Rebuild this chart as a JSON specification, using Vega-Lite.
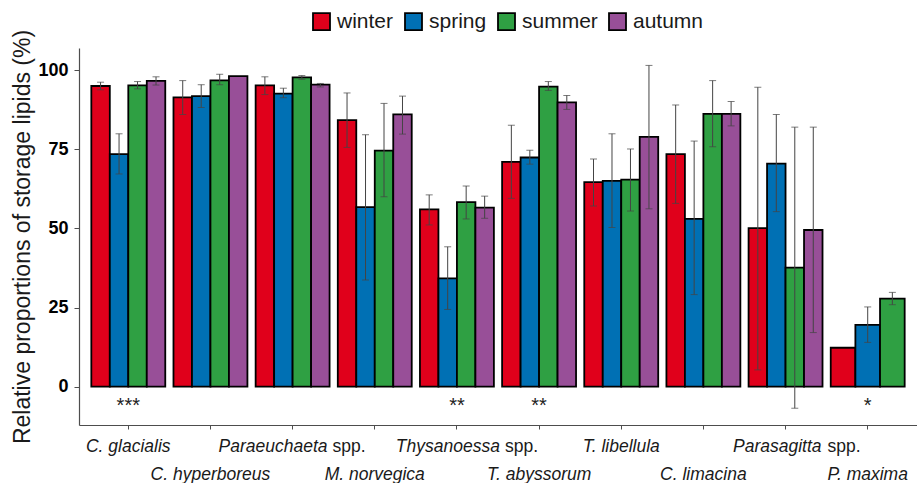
{
  "$schema": "https://vega.github.io/schema/vega-lite/v6.json",
  "width": 838,
  "height": 377,
  "autosize": {"type": "none"},
  "padding": {"left": 79, "top": 48, "right": 0, "bottom": 58},
  "background": "white",
  "config": {"font": "Liberation Sans", "view": {"stroke": null}},
  "datasets": {
    "lipids": [
      {"species": "C. glacialis", "season": "winter", "value": 95.0, "lo": 93.8, "hi": 96.2},
      {"species": "C. glacialis", "season": "spring", "value": 73.5, "lo": 67.2, "hi": 79.9},
      {"species": "C. glacialis", "season": "summer", "value": 95.2, "lo": 94.1, "hi": 96.4},
      {"species": "C. glacialis", "season": "autumn", "value": 96.6, "lo": 95.3, "hi": 97.9},
      {"species": "C. hyperboreus", "season": "winter", "value": 91.4, "lo": 86.0, "hi": 96.7},
      {"species": "C. hyperboreus", "season": "spring", "value": 91.8, "lo": 88.2, "hi": 95.4},
      {"species": "C. hyperboreus", "season": "summer", "value": 96.8, "lo": 95.4, "hi": 98.7},
      {"species": "C. hyperboreus", "season": "autumn", "value": 98.1, "lo": null, "hi": null},
      {"species": "Paraeuchaeta spp.", "season": "winter", "value": 95.2, "lo": 92.3, "hi": 97.9},
      {"species": "Paraeuchaeta spp.", "season": "spring", "value": 92.6, "lo": 91.3, "hi": 94.3},
      {"species": "Paraeuchaeta spp.", "season": "summer", "value": 97.7, "lo": 97.1, "hi": 98.3},
      {"species": "Paraeuchaeta spp.", "season": "autumn", "value": 95.4, "lo": 94.7, "hi": 95.8},
      {"species": "M. norvegica", "season": "winter", "value": 84.2, "lo": 75.6, "hi": 92.8},
      {"species": "M. norvegica", "season": "spring", "value": 56.7, "lo": 33.7, "hi": 79.6},
      {"species": "M. norvegica", "season": "summer", "value": 74.6, "lo": 60.0, "hi": 89.5},
      {"species": "M. norvegica", "season": "autumn", "value": 86.0, "lo": 79.8, "hi": 91.8},
      {"species": "Thysanoessa spp.", "season": "winter", "value": 56.0, "lo": 51.1, "hi": 60.6},
      {"species": "Thysanoessa spp.", "season": "spring", "value": 34.2, "lo": 24.4, "hi": 44.2},
      {"species": "Thysanoessa spp.", "season": "summer", "value": 58.3, "lo": 53.0, "hi": 63.4},
      {"species": "Thysanoessa spp.", "season": "autumn", "value": 56.6, "lo": 53.2, "hi": 60.2},
      {"species": "T. abyssorum", "season": "winter", "value": 71.0, "lo": 59.5, "hi": 82.6},
      {"species": "T. abyssorum", "season": "spring", "value": 72.4, "lo": 70.3, "hi": 74.7},
      {"species": "T. abyssorum", "season": "summer", "value": 94.8, "lo": 93.6, "hi": 96.4},
      {"species": "T. abyssorum", "season": "autumn", "value": 89.8, "lo": 87.6, "hi": 92.0},
      {"species": "T. libellula", "season": "winter", "value": 64.6, "lo": 57.1, "hi": 71.9},
      {"species": "T. libellula", "season": "spring", "value": 65.0, "lo": 50.3, "hi": 79.9},
      {"species": "T. libellula", "season": "summer", "value": 65.4, "lo": 55.5, "hi": 75.1},
      {"species": "T. libellula", "season": "autumn", "value": 78.9, "lo": 56.2, "hi": 101.5},
      {"species": "C. limacina", "season": "winter", "value": 73.5, "lo": 57.9, "hi": 89.0},
      {"species": "C. limacina", "season": "spring", "value": 53.0, "lo": 29.1, "hi": 77.6},
      {"species": "C. limacina", "season": "summer", "value": 86.2, "lo": 75.8, "hi": 96.7},
      {"species": "C. limacina", "season": "autumn", "value": 86.2, "lo": 82.4, "hi": 90.1},
      {"species": "Parasagitta spp.", "season": "winter", "value": 50.1, "lo": 5.3, "hi": 94.6},
      {"species": "Parasagitta spp.", "season": "spring", "value": 70.5, "lo": 55.3, "hi": 86.0},
      {"species": "Parasagitta spp.", "season": "summer", "value": 37.6, "lo": -6.8, "hi": 82.0},
      {"species": "Parasagitta spp.", "season": "autumn", "value": 49.5, "lo": 17.1, "hi": 82.0},
      {"species": "P. maxima", "season": "winter", "value": 12.3, "lo": null, "hi": null},
      {"species": "P. maxima", "season": "spring", "value": 19.5, "lo": 14.0, "hi": 25.2},
      {"species": "P. maxima", "season": "summer", "value": 27.8, "lo": 25.9, "hi": 29.8}
    ],
    "stars": [
      {"species": "C. glacialis", "sig": "***"},
      {"species": "Thysanoessa spp.", "sig": "**"},
      {"species": "T. abyssorum", "sig": "**"},
      {"species": "P. maxima", "sig": "*"}
    ]
  },
  "layer": [
    {
      "data": {"name": "lipids"},
      "transform": [{"filter": "datum.species !== 'P. maxima'"}],
      "encoding": {
        "x": {
          "field": "species", "type": "nominal",
          "scale": {"domain": ["C. glacialis", "C. hyperboreus", "Paraeuchaeta spp.", "M. norvegica", "Thysanoessa spp.", "T. abyssorum", "T. libellula", "C. limacina", "Parasagitta spp.", "P. maxima"], "paddingInner": 0.1, "paddingOuter": 0.15},
          "axis": {
            "orient": "bottom", "title": null, "labelAngle": 0,
            "domainColor": "#4d4d4d", "domainWidth": 1.2, "tickColor": "#4d4d4d", "tickSize": 4, "tickWidth": 1,
            "labelFontSize": 17.5, "labelFontStyle": "italic", "labelColor": "#1a1a1a",
            "labelExpr": "replace(datum.value, ' spp.', '')",
            "labelAlign": {"condition": {"test": "datum.value === 'Paraeuchaeta spp.' || datum.value === 'Thysanoessa spp.' || datum.value === 'Parasagitta spp.'", "value": "right"}, "value": "center"},
            "labelOffset": {"condition": [{"test": "datum.value === 'Paraeuchaeta spp.'", "value": 35}, {"test": "datum.value === 'Thysanoessa spp.'", "value": 43}, {"test": "datum.value === 'Parasagitta spp.'", "value": 36}], "value": 0},
            "labelPadding": {"condition": {"test": "datum.value === 'C. hyperboreus' || datum.value === 'M. norvegica' || datum.value === 'T. abyssorum' || datum.value === 'C. limacina' || datum.value === 'P. maxima'", "value": 36}, "value": 8}
          }
        },
        "xOffset": {"field": "season", "type": "nominal", "scale": {"domain": ["winter", "spring", "summer", "autumn"]}},
        "y": {
          "field": "value", "type": "quantitative", "stack": null,
          "scale": {"domain": [-12.1, 107], "nice": false, "zero": false},
          "axis": {"title": "Relative proportions of storage lipids (%)", "values": [0, 25, 50, 75, 100], "grid": false, "titleFontSize": 23, "titleFontWeight": "normal", "titleColor": "#1a1a1a", "titlePadding": 3, "labelFontSize": 18, "labelFontWeight": "bold", "labelColor": "#000000", "labelPadding": 6, "tickSize": 5, "tickColor": "#4d4d4d", "domainColor": "#4d4d4d", "domainWidth": 1.2}
        }
      },
      "layer": [
        {
          "mark": {"type": "bar", "stroke": "black", "strokeWidth": 1.8},
          "encoding": {
            "color": {
              "field": "season", "type": "nominal",
              "scale": {"domain": ["winter", "spring", "summer", "autumn"], "range": ["#E0001B", "#0070B4", "#2FA043", "#984F98"]},
              "legend": {"orient": "none", "direction": "horizontal", "legendX": 232, "legendY": -37, "title": null, "symbolType": "square", "symbolSize": 289, "symbolStrokeColor": "black", "symbolStrokeWidth": 1.8, "symbolOpacity": 1, "labelFontSize": 21, "labelColor": "#1a1a1a", "labelOffset": 5, "columnPadding": 7}
            }
          }
        },
        {
          "transform": [{"filter": "isValid(datum.lo)"}],
          "mark": {"type": "rule", "color": "#444444", "strokeWidth": 1},
          "encoding": {"y": {"field": "lo", "type": "quantitative"}, "y2": {"field": "hi"}}
        },
        {
          "transform": [{"filter": "isValid(datum.lo)"}],
          "mark": {"type": "tick", "color": "#444444", "size": 7, "thickness": 1},
          "encoding": {"y": {"field": "hi", "type": "quantitative"}}
        },
        {
          "transform": [{"filter": "isValid(datum.lo)"}],
          "mark": {"type": "tick", "color": "#444444", "size": 7, "thickness": 1},
          "encoding": {"y": {"field": "lo", "type": "quantitative"}}
        }
      ]
    },
    {
      "data": {"name": "lipids"},
      "transform": [{"filter": "datum.species === 'P. maxima'"}],
      "encoding": {
        "x": {
          "field": "species", "type": "nominal",
          "scale": {"domain": ["C. glacialis", "C. hyperboreus", "Paraeuchaeta spp.", "M. norvegica", "Thysanoessa spp.", "T. abyssorum", "T. libellula", "C. limacina", "Parasagitta spp.", "P. maxima"], "paddingInner": 0.1, "paddingOuter": 0.15},
          "axis": null
        },
        "xOffset": {"field": "season", "type": "nominal", "scale": {"domain": ["winter", "spring", "summer"]}},
        "y": {"field": "value", "type": "quantitative", "stack": null}
      },
      "layer": [
        {
          "mark": {"type": "bar", "stroke": "black", "strokeWidth": 1.8},
          "encoding": {"color": {"field": "season", "type": "nominal"}}
        },
        {
          "transform": [{"filter": "isValid(datum.lo)"}],
          "mark": {"type": "rule", "color": "#444444", "strokeWidth": 1},
          "encoding": {"y": {"field": "lo", "type": "quantitative"}, "y2": {"field": "hi"}}
        },
        {
          "transform": [{"filter": "isValid(datum.lo)"}],
          "mark": {"type": "tick", "color": "#444444", "size": 7, "thickness": 1},
          "encoding": {"y": {"field": "hi", "type": "quantitative"}}
        },
        {
          "transform": [{"filter": "isValid(datum.lo)"}],
          "mark": {"type": "tick", "color": "#444444", "size": 7, "thickness": 1},
          "encoding": {"y": {"field": "lo", "type": "quantitative"}}
        }
      ]
    },
    {
      "data": {"name": "stars"},
      "mark": {"type": "text", "fontSize": 20, "color": "#222222", "baseline": "alphabetic", "dy": 9},
      "encoding": {
        "x": {
          "field": "species", "type": "nominal",
          "scale": {"domain": ["C. glacialis", "C. hyperboreus", "Paraeuchaeta spp.", "M. norvegica", "Thysanoessa spp.", "T. abyssorum", "T. libellula", "C. limacina", "Parasagitta spp.", "P. maxima"], "paddingInner": 0.1, "paddingOuter": 0.15},
          "axis": {
            "orient": "bottom", "title": null, "labelAngle": 0, "domain": false,
            "tickColor": "transparent", "tickSize": 4,
            "labelFontSize": 17.5, "labelFontStyle": "normal", "labelColor": "#1a1a1a",
            "labelExpr": "(datum.value === 'Paraeuchaeta spp.' || datum.value === 'Thysanoessa spp.' || datum.value === 'Parasagitta spp.') ? 'spp.' : ''",
            "labelAlign": "left",
            "labelOffset": {"condition": [{"test": "datum.value === 'Paraeuchaeta spp.'", "value": 40}, {"test": "datum.value === 'Thysanoessa spp.'", "value": 48}, {"test": "datum.value === 'Parasagitta spp.'", "value": 42}], "value": 0},
            "labelPadding": 8
          }
        },
        "y": {"datum": -5, "type": "quantitative"},
        "text": {"field": "sig"}
      }
    }
  ],
  "resolve": {"scale": {"xOffset": "independent"}, "axis": {"x": "independent"}}
}
